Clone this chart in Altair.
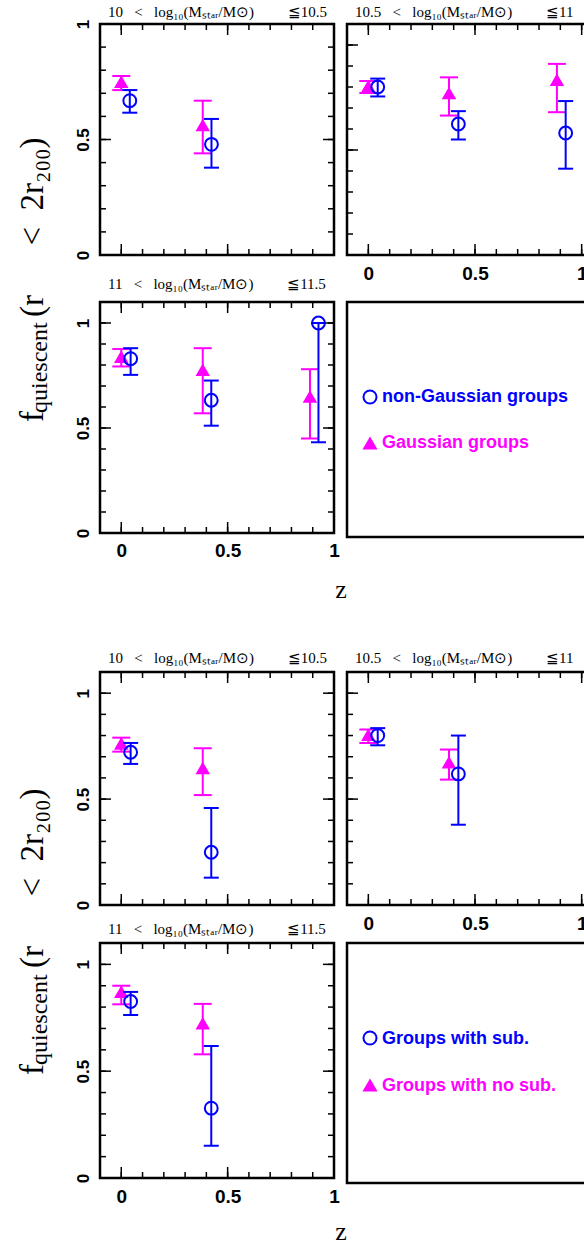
import altair as alt
import pandas as pd

BLUE = "#0000ff"
MAGENTA = "#ff00ff"
SERIF = "Liberation Serif"
SANS = "Liberation Sans"

EN = "\u2002"
EM = "\u2003"

# ---------------- text ----------------
TITLES = [
    f"10{EN} <{EN} log₁₀(Mₛₜₐᵣ/M⊙){EM}{EM} ≦10.5",
    f"10.5{EN} <{EN} log₁₀(Mₛₜₐᵣ/M⊙){EM}{EM} ≦11",
    f"11{EN} <{EN} log₁₀(Mₛₜₐᵣ/M⊙){EM}{EM} ≦11.5",
]
YTITLE = ["f", "quiescent", f"(r{EM}{EN}<{EN}2r₂₀₀)"]
LEGEND_UPPER = ["non-Gaussian groups", "Gaussian groups"]
LEGEND_LOWER = ["Groups with sub.", "Groups with no sub."]
XLABEL = "z"

# tick positions of the frames
X_MINOR = [0.0, 0.1, 0.2, 0.3, 0.4, 0.5, 0.6, 0.7, 0.8, 0.9, 1.0]
X_MAJOR = [0.0, 0.5, 1.0]
Y_MINOR = [0.1, 0.2, 0.3, 0.4, 0.5, 0.6, 0.7, 0.8, 0.9, 1.0]
Y_MAJOR = [0.0, 0.5, 1.0]
LABEL_VALUES = [0, 0.5, 1]

# ---------------- data: upper figure (blue = non-Gaussian, magenta = Gaussian) ----------------
A_blue = {"z": [0.04, 0.424], "f": [0.668, 0.479], "lo": [0.616, 0.378], "hi": [0.714, 0.589]}
A_mag = {"z": [0.0, 0.383], "f": [0.75, 0.563], "lo": [0.714, 0.44], "hi": [0.775, 0.668]}

B_blue = {"z": [0.044, 0.422, 0.925], "f": [0.80, 0.624, 0.581],
          "lo": [0.755, 0.55, 0.411], "hi": [0.84, 0.685, 0.733]}
B_mag = {"z": [0.0, 0.378, 0.884], "f": [0.805, 0.771, 0.835],
         "lo": [0.771, 0.664, 0.68], "hi": [0.829, 0.846, 0.91]}

C_blue = {"z": [0.044, 0.423, 0.927], "f": [0.83, 0.632, 1.0],
          "lo": [0.753, 0.511, 0.432], "hi": [0.88, 0.726, 1.0]}
C_mag = {"z": [0.0, 0.383, 0.887], "f": [0.84, 0.777, 0.65],
         "lo": [0.793, 0.57, 0.45], "hi": [0.876, 0.88, 0.78]}

# ---------------- data: lower figure (blue = with sub., magenta = no sub.) ----------------
E_blue = {"z": [0.044, 0.423], "f": [0.721, 0.249], "lo": [0.666, 0.129], "hi": [0.765, 0.458]}
E_mag = {"z": [0.0, 0.383], "f": [0.763, 0.647], "lo": [0.724, 0.519], "hi": [0.79, 0.74]}

F_blue = {"z": [0.044, 0.422], "f": [0.80, 0.619], "lo": [0.754, 0.379], "hi": [0.835, 0.80]}
F_mag = {"z": [0.0, 0.378], "f": [0.804, 0.674], "lo": [0.765, 0.592], "hi": [0.829, 0.734]}

G_blue = {"z": [0.044, 0.423], "f": [0.826, 0.327], "lo": [0.763, 0.151], "hi": [0.871, 0.618]}
G_mag = {"z": [0.0, 0.383], "f": [0.872, 0.724], "lo": [0.813, 0.579], "hi": [0.90, 0.815]}


def txt(text, x, y, size, font=SERIF, weight="normal", angle=0, align="left",
        baseline="alphabetic", color="black"):
    return alt.Chart(pd.DataFrame({"t": [text]})).mark_text(
        font=font, fontSize=size, fontWeight=weight, angle=angle, align=align,
        baseline=baseline, color=color,
    ).encode(text="t:N", x=alt.value(x), y=alt.value(y))


def panel(blue, mag, W, H, xdom, ydom, title, ty, ylab, xlab, xpad, extras=()):
    xs = alt.Scale(domain=xdom, nice=False, zero=False)
    ys = alt.Scale(domain=ydom, nice=False, zero=False)
    if xlab:
        xaxis = alt.Axis(values=LABEL_VALUES, format="~g", ticks=False, domain=False, grid=False,
                         title=None, labelFont=SANS, labelFontWeight="bold", labelFontSize=19,
                         labelColor="black", labelPadding=xpad, labelFlush=False,
                         labelOverlap=False, labelAlign="center", labelBaseline="top")
    else:
        xaxis = None
    if ylab:
        yaxis = alt.Axis(values=LABEL_VALUES, format="~g", ticks=False, domain=False, grid=False,
                         title=None, labelFont=SANS, labelFontWeight="bold", labelFontSize=17,
                         labelColor="black", labelPadding=12, labelAngle=270,
                         labelAlign="center", labelBaseline="alphabetic",
                         labelFlush=False, labelOverlap=False)
    else:
        yaxis = None

    def X(c):
        return alt.X(c, type="quantitative", scale=xs, axis=xaxis)

    def Y(c):
        return alt.Y(c, type="quantitative", scale=ys, axis=yaxis)

    layers = []
    # inward frame ticks
    for vals, L in ((Y_MINOR, 6), (Y_MAJOR, 11)):
        d = pd.DataFrame({"v": [v for v in vals if ydom[0] < v < ydom[1]]})
        layers.append(alt.Chart(d).mark_rule(color="black", strokeWidth=1.5).encode(
            y=Y("v"), x=alt.value(0), x2=alt.value(L)))
        layers.append(alt.Chart(d).mark_rule(color="black", strokeWidth=1.5).encode(
            y=Y("v"), x=alt.value(W), x2=alt.value(W - L)))
    for vals, L in ((X_MINOR, 6), (X_MAJOR, 11)):
        d = pd.DataFrame({"v": [v for v in vals if xdom[0] < v < xdom[1]]})
        layers.append(alt.Chart(d).mark_rule(color="black", strokeWidth=1.5).encode(
            x=X("v"), y=alt.value(0), y2=alt.value(L)))
        layers.append(alt.Chart(d).mark_rule(color="black", strokeWidth=1.5).encode(
            x=X("v"), y=alt.value(H), y2=alt.value(H - L)))

    for s, color, cap, kind in ((mag, MAGENTA, 18, "tri"), (blue, BLUE, 15, "circ")):
        d = pd.DataFrame(s)
        layers.append(alt.Chart(d).mark_rule(color=color, strokeWidth=2).encode(
            x=X("z"), y=Y("lo"), y2=alt.Y2("hi")))
        for c in ("lo", "hi"):
            layers.append(alt.Chart(d).mark_tick(orient="horizontal", color=color, thickness=2,
                                                 size=cap, opacity=1).encode(x=X("z"), y=Y(c)))
        if kind == "tri":
            mk = alt.Chart(d).mark_point(shape="triangle-up", filled=True, size=210,
                                         color=MAGENTA, opacity=1)
        else:
            mk = alt.Chart(d).mark_point(shape="circle", filled=False, size=165, strokeWidth=2,
                                         color=BLUE, opacity=1)
        layers.append(mk.encode(x=X("z"), y=Y("f")))

    layers.append(txt(title, 8, ty, 15))
    return alt.layer(*layers, *extras).properties(width=W, height=H)


def legend_box(W, H, labels, sym_y, text_y):
    layers = [
        alt.Chart(pd.DataFrame({"a": [0]})).mark_point(
            shape="circle", filled=False, size=170, strokeWidth=2, color=BLUE, opacity=1
        ).encode(x=alt.value(23), y=alt.value(sym_y[0])),
        alt.Chart(pd.DataFrame({"a": [0]})).mark_point(
            shape="triangle-up", filled=True, size=230, color=MAGENTA, opacity=1
        ).encode(x=alt.value(23), y=alt.value(sym_y[1])),
        txt(labels[0], 35, text_y[0], 18, font=SANS, weight="bold", color=BLUE),
        txt(labels[1], 35, text_y[1], 18, font=SANS, weight="bold", color=MAGENTA),
    ]
    return alt.layer(*layers).properties(width=W, height=H)


def spacer(w, h):
    return alt.Chart(pd.DataFrame({"a": [0]})).mark_point(opacity=0, size=1).encode(
        x=alt.value(w / 2), y=alt.value(h / 2)
    ).properties(width=w, height=h,
                 view=alt.ViewBackground(stroke="transparent", strokeWidth=0))


def ytitle(yf, yq, yr):
    return [
        txt(YTITLE[0], -57, yf, 33, angle=270),
        txt(YTITLE[1], -53, yq, 24, angle=270),
        txt(YTITLE[2], -57, yr, 33, angle=270),
    ]


WL, WR = 234, 256
XL, XR = [-0.1, 1.0], [-0.1, 1.1]

A = panel(A_blue, A_mag, WL, 231, XL, [0, 1.0], TITLES[0], -7.5, True, False, 9,
          extras=ytitle(398, 389, 293))
B = panel(B_blue, B_mag, WR, 231, XR, [0, 1.1], TITLES[1], -7.5, False, True, 9.5)
C = panel(C_blue, C_mag, WL, 231, XL, [0, 1.1], TITLES[2], -13, True, True, 8,
          extras=[txt(XLABEL, 241, 288, 26, align="center", baseline="middle")])
D = legend_box(WR, 235, LEGEND_UPPER, (95, 141), (100, 146))

E = panel(E_blue, E_mag, WL, 233, XL, [0, 1.1], TITLES[0], -9, True, False, 9,
          extras=ytitle(403, 393, 296))
F = panel(F_blue, F_mag, WR, 233, XR, [0, 1.1], TITLES[1], -9, False, True, 9.5)
G = panel(G_blue, G_mag, WL, 235, XL, [0, 1.1], TITLES[2], -9, True, True, 9.5,
          extras=[txt(XLABEL, 241, 297, 26, align="center", baseline="alphabetic")])
H = legend_box(WR, 240, LEGEND_LOWER, (95, 142), (101, 148))

S0 = 87
cells = [
    spacer(S0, 24), spacer(WL, 24), spacer(WR, 24),
    spacer(S0, 231), A, B,
    spacer(S0, 47), spacer(WL, 47), spacer(WR, 47),
    spacer(S0, 235), C, D,
    spacer(S0, 135), spacer(WL, 135), spacer(WR, 135),
    spacer(S0, 233), E, F,
    spacer(S0, 38), spacer(WL, 38), spacer(WR, 38),
    spacer(S0, 240), G, H,
]

chart = alt.concat(*cells, columns=3, spacing={"row": 0, "column": 13}, bounds="flush").properties(
    padding={"left": 0, "top": 0, "right": -21, "bottom": 0}, background="white"
).configure_view(stroke="black", strokeWidth=2.5)

chart.save("out.html", embed_options={"renderer": "svg", "actions": False})
